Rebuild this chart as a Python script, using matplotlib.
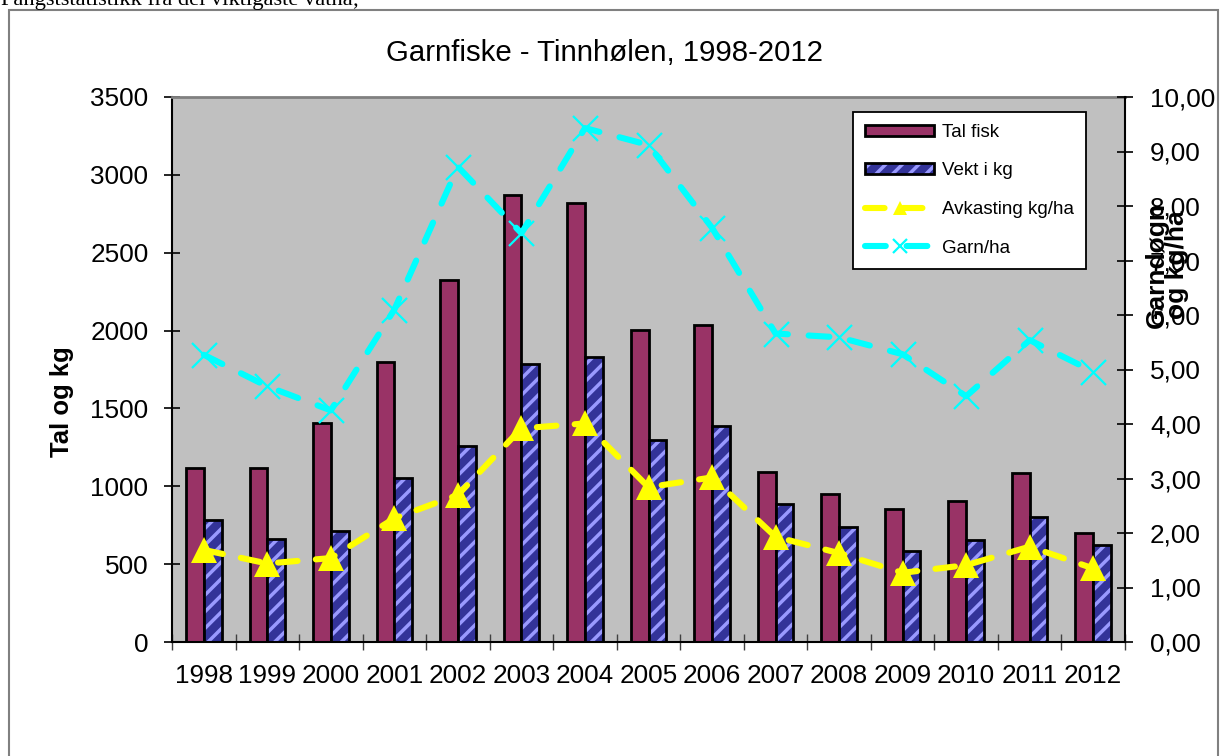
import matplotlib
matplotlib.use("Agg")
import matplotlib.pyplot as plt
import numpy as np
from matplotlib.patches import Rectangle, Patch
from matplotlib.ticker import FuncFormatter, FixedLocator

plt.rcParams['font.family'] = ['Liberation Sans', 'DejaVu Sans']
plt.rcParams['hatch.color'] = '#9999FF'
plt.rcParams['hatch.linewidth'] = 2.5

# ---- data ----
years = ['1998', '1999', '2000', '2001', '2002', '2003', '2004', '2005',
         '2006', '2007', '2008', '2009', '2010', '2011', '2012']
tal_fisk = [1120, 1115, 1406, 1800, 2322, 2870, 2820, 2006, 2036, 1090, 950, 853, 908, 1088, 701]
vekt_kg = [783, 662, 711, 1053, 1256, 1786, 1829, 1295, 1385, 884, 740, 583, 654, 803, 626]
avkasting = [1.69, 1.44, 1.54, 2.27, 2.70, 3.92, 4.01, 2.84, 3.02, 1.93, 1.63, 1.27, 1.41, 1.75, 1.35]
garn_ha = [5.27, 4.69, 4.25, 6.10, 8.72, 7.50, 9.43, 9.12, 7.60, 5.66, 5.59, 5.28, 4.51, 5.54, 4.96]

left_ticks = [0, 500, 1000, 1500, 2000, 2500, 3000, 3500]
right_ticks = [0, 1, 2, 3, 4, 5, 6, 7, 8, 9, 10]

title = 'Garnfiske - Tinnhølen, 1998-2012'
header = 'Fangststatistikk fra dei viktigaste vatna;'

W, H = 1222, 756
fig = plt.figure(figsize=(W / 100, H / 100), dpi=100)
fig.patch.set_facecolor('white')

# outer chart frame
fig.patches.append(Rectangle((8.5 / W, -0.05), (1218 - 8.5) / W, 1.05 - 9.5 / H,
                             transform=fig.transFigure, fill=False,
                             edgecolor='#808080', lw=1.5))

# header text (cut at top)
fig.text(1 / W, 1 - 5 / H, header, family=['Liberation Serif', 'DejaVu Serif'],
         fontsize=16.1, ha='left', va='baseline')

ax = fig.add_axes([172 / W, 1 - 642 / H, (1125 - 172) / W, (642 - 97) / H])
ax.set_facecolor('#C0C0C0')
x = np.arange(len(years))
bw = 0.28

ax.bar(x - bw / 2, tal_fisk, bw, color='#993366', edgecolor='black', lw=2, zorder=2)
ax.bar(x + bw / 2, vekt_kg, bw, color='#333399', hatch='//', lw=0, zorder=2)
ax.bar(x + bw / 2, vekt_kg, bw, facecolor='none', edgecolor='black', lw=2, zorder=3)

ax.set_xlim(-0.5, len(years) - 0.5)
ax.set_ylim(0, 3500)
ax.set_yticks(left_ticks)
ax.set_xticks(x)
ax.set_xticklabels(years)
ax.xaxis.set_minor_locator(FixedLocator(np.arange(-0.5, len(years), 1.0)))
ax.tick_params(axis='x', which='major', length=0, labelsize=18.8, pad=16)
ax.tick_params(axis='x', which='minor', direction='inout', length=12, width=1, color='#404040')
ax.tick_params(axis='y', direction='inout', length=12, width=1.2, labelsize=18.8, pad=11)
for s in ['left', 'bottom']:
    ax.spines[s].set_color('black')
    ax.spines[s].set_linewidth(1.5)
ax.spines['top'].set_color('#808080')
ax.spines['top'].set_linewidth(2)
ax.spines['right'].set_visible(False)

fig.text(62 / W, 1 - 402 / H, 'Tal og kg', rotation=90, fontsize=18.5,
         fontweight='bold', ha='center', va='center')

ax2 = ax.twinx()
ax2.set_ylim(0, 10)
ax2.set_yticks(right_ticks)
ax2.yaxis.set_major_formatter(FuncFormatter(lambda v, p: f"{v:.2f}".replace('.', ',')))
ax2.tick_params(axis='y', direction='inout', length=12, width=1.2, labelsize=18.8, pad=12)
ax2.spines['right'].set_color('black')
ax2.spines['right'].set_linewidth(1.5)
for s in ['left', 'top', 'bottom']:
    ax2.spines[s].set_visible(False)

l1, = ax2.plot(x, avkasting, color='#FFFF00', lw=4.4, dashes=(3.2, 3.0),
               dash_capstyle='round', marker='^', markersize=19,
               markeredgewidth=0, zorder=4)
l2, = ax2.plot(x, garn_ha, color='#00FFFF', lw=4.4, dashes=(3.4, 3.4),
               dash_capstyle='round', marker='x', markersize=18,
               markeredgewidth=1.6, zorder=4)

fig.text(1157 / W, 1 - 265 / H, 'Garndøgn', rotation=90, fontsize=19,
         fontweight='bold', ha='center', va='center')
fig.text(1177 / W, 1 - 265 / H, 'og kg/ha', rotation=90, fontsize=19,
         fontweight='bold', ha='center', va='center')

fig.text(605 / W, 1 - 53 / H, title, fontsize=21.2, ha='center', va='center')

h_tal = Patch(facecolor='#993366', edgecolor='black', lw=2)
h_vekt = (Patch(facecolor='#333399', hatch='//', lw=0),
          Patch(facecolor='none', edgecolor='black', lw=2))
leg = ax2.legend([h_tal, h_vekt, l1, l2],
                 ['Tal fisk', 'Vekt i kg', 'Avkasting kg/ha', 'Garn/ha'],
                 loc='upper left', bbox_to_anchor=(852.7 / W, 1 - 111.7 / H),
                 bbox_transform=fig.transFigure, borderaxespad=0,
                 fontsize=13.5, handlelength=3.7, handleheight=0.55,
                 handletextpad=0.4, labelspacing=1.15, borderpad=0.65,
                 markerscale=0.55, fancybox=False, framealpha=1,
                 edgecolor='black')
leg.get_frame().set_linewidth(1.3)
leg.set_zorder(10)

fig.savefig('out.png', dpi=100, facecolor='white')
